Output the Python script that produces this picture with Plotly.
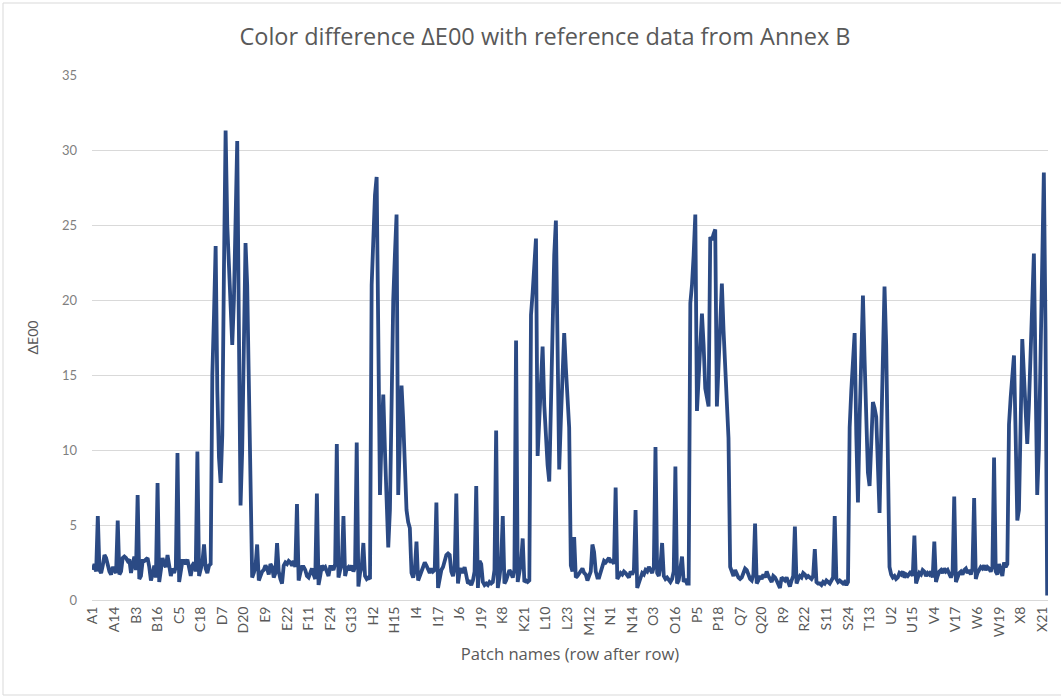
import plotly.graph_objects as go

# Colour difference per patch, one list per target row (24 patches each)
row_A = [2.0, 2.4, 1.9, 5.6, 2.0, 1.8, 2.3, 3.0, 2.8, 2.2, 1.9, 1.7, 2.2, 2.0, 1.8, 5.3, 1.7, 1.9, 2.8, 2.9, 2.8, 2.6, 2.7, 1.8]
row_B = [2.4, 2.9, 2.0, 7.0, 1.4, 1.6, 2.6, 2.6, 2.7, 2.8, 2.2, 1.3, 1.7, 2.3, 1.5, 7.8, 1.2, 2.2, 2.8, 2.4, 2.2, 3.0, 2.1, 1.6]
row_C = [2.1, 1.8, 2.2, 9.8, 1.2, 1.9, 2.6, 2.6, 2.4, 2.7, 2.1, 1.6, 2.3, 2.5, 1.9, 9.9, 1.6, 2.0, 2.5, 3.7, 2.1, 1.8, 2.3, 2.4]
row_D = [15.0, 19.0, 23.6, 14.0, 9.5, 7.8, 11.0, 22.0, 31.3, 25.0, 22.0, 19.0, 17.0, 20.0, 26.0, 30.6, 18.0, 6.3, 10.0, 17.0, 23.8, 21.0, 14.0, 5.0]
row_E = [1.5, 1.8, 2.2, 3.7, 1.3, 1.6, 1.9, 2.0, 2.3, 2.1, 1.7, 2.4, 2.2, 1.5, 1.8, 3.8, 1.9, 1.4, 1.1, 2.3, 2.5, 2.4, 2.6, 2.5]
row_F = [2.3, 2.6, 2.2, 6.4, 1.3, 1.8, 2.2, 2.2, 2.0, 1.6, 1.5, 1.8, 2.1, 1.7, 1.4, 7.1, 1.0, 1.6, 2.3, 2.1, 2.2, 1.9, 1.6, 2.2]
row_G = [2.2, 2.0, 2.4, 10.4, 1.5, 2.0, 2.3, 5.6, 1.6, 2.1, 2.2, 2.0, 2.3, 1.9, 2.2, 10.5, 0.9, 1.8, 2.2, 3.8, 1.6, 1.4, 1.5, 1.4]
row_H = [21.0, 24.0, 27.0, 28.2, 19.0, 7.0, 11.0, 13.7, 10.0, 6.0, 3.5, 6.0, 15.0, 20.0, 23.0, 25.7, 7.0, 11.0, 14.3, 12.0, 8.0, 6.0, 5.2, 4.8]
row_I = [1.8, 1.5, 2.0, 3.9, 1.3, 1.6, 1.9, 2.2, 2.5, 2.3, 2.0, 1.8, 2.1, 1.9, 2.0, 6.5, 0.8, 1.6, 2.0, 2.2, 2.6, 3.0, 3.1, 3.0]
row_J = [1.9, 1.6, 2.1, 7.1, 1.1, 1.9, 2.1, 1.8, 2.2, 1.7, 1.1, 1.2, 1.0, 1.3, 1.9, 7.6, 0.8, 2.6, 2.4, 1.2, 1.0, 1.1, 1.0, 1.2]
row_K = [1.1, 1.2, 2.0, 11.3, 0.8, 1.5, 2.5, 5.6, 1.1, 1.3, 1.6, 2.0, 1.8, 1.5, 2.0, 17.3, 1.2, 2.0, 2.5, 4.1, 1.2, 1.3, 1.2, 1.3]
row_L = [19.0, 20.5, 22.5, 24.1, 9.6, 12.0, 14.5, 16.9, 13.0, 10.5, 9.0, 7.9, 14.0, 19.0, 23.0, 25.3, 14.0, 8.7, 12.0, 15.5, 17.8, 15.5, 13.5, 11.5]
row_M = [2.3, 1.9, 4.2, 1.5, 1.6, 1.8, 1.9, 2.1, 1.8, 1.7, 1.3, 1.6, 1.9, 3.7, 3.2, 1.9, 1.5, 1.5, 1.9, 2.4, 2.6, 2.5, 2.7, 2.8]
row_N = [2.5, 2.7, 2.4, 7.5, 1.4, 1.6, 1.8, 1.7, 1.9, 1.8, 1.6, 1.5, 1.9, 1.7, 2.0, 6.0, 0.8, 1.2, 1.6, 1.8, 1.7, 2.0, 1.9, 2.2]
row_O = [2.0, 1.8, 2.2, 10.2, 1.8, 1.6, 2.3, 3.8, 1.6, 1.4, 1.5, 1.3, 1.2, 1.4, 1.9, 8.9, 1.1, 1.3, 2.0, 2.9, 1.2, 1.4, 1.1, 1.1]
row_P = [19.8, 21.0, 23.0, 25.7, 12.6, 15.0, 17.5, 19.1, 17.0, 14.1, 13.5, 12.9, 24.2, 24.0, 24.4, 24.7, 12.9, 16.0, 19.0, 21.1, 18.0, 15.5, 13.0, 10.8]
row_Q = [2.2, 1.9, 1.6, 2.0, 1.7, 1.5, 1.4, 1.5, 1.8, 2.1, 2.0, 1.6, 1.4, 1.3, 1.7, 5.1, 1.1, 1.3, 1.6, 1.4, 1.7, 1.5, 1.9, 1.6]
row_R = [1.4, 1.2, 1.6, 1.5, 1.3, 1.0, 0.8, 1.5, 1.4, 1.3, 1.5, 1.1, 0.9, 1.3, 1.6, 4.9, 1.1, 1.4, 1.6, 1.5, 1.8, 1.7, 1.5, 1.6]
row_S = [1.5, 1.4, 1.6, 3.4, 1.2, 1.1, 1.1, 1.0, 1.2, 1.1, 1.3, 1.2, 1.1, 1.3, 1.5, 5.6, 1.4, 1.2, 1.3, 1.2, 1.1, 1.2, 1.0, 1.2]
row_T = [11.5, 14.0, 16.5, 17.8, 11.0, 6.5, 12.0, 17.0, 20.3, 16.0, 11.0, 8.5, 7.6, 10.5, 13.2, 12.8, 12.2, 9.0, 5.8, 11.0, 17.0, 20.9, 17.0, 8.0]
row_U = [2.2, 1.7, 1.5, 1.6, 1.4, 1.5, 1.8, 1.7, 1.9, 1.5, 1.7, 1.6, 1.8, 1.9, 1.6, 4.3, 1.1, 1.5, 1.8, 1.7, 2.0, 1.9, 1.6, 1.8]
row_V = [1.7, 1.9, 1.5, 3.9, 1.2, 1.6, 1.9, 2.0, 1.8, 2.1, 1.9, 2.0, 1.7, 1.5, 1.8, 6.9, 1.2, 1.6, 1.8, 1.9, 1.7, 2.0, 2.1, 1.8]
row_W = [2.0, 1.7, 2.1, 6.8, 1.4, 1.8, 2.0, 2.2, 2.1, 2.3, 2.0, 2.2, 2.1, 1.9, 2.2, 9.5, 1.9, 1.7, 2.4, 2.0, 1.6, 2.5, 2.2, 2.4]
row_X = [11.7, 13.5, 15.0, 16.3, 11.0, 5.3, 6.0, 11.0, 17.4, 15.0, 12.0, 10.4, 13.0, 17.0, 20.5, 23.1, 15.0, 7.0, 10.0, 17.0, 24.0, 28.5, 18.0, 0.3]

row_letters = list("ABCDEFGHIJKLMNOPQRSTUVWX")
rows = [row_A, row_B, row_C, row_D, row_E, row_F, row_G, row_H, row_I, row_J, row_K, row_L,
        row_M, row_N, row_O, row_P, row_Q, row_R, row_S, row_T, row_U, row_V, row_W, row_X]

tick_labels = ["A1", "A14", "B3", "B16", "C5", "C18", "D7", "D20", "E9", "E22", "F11", "F24",
               "G13", "H2", "H15", "I4", "I17", "J6", "J19", "K8", "K21", "L10", "L23", "M12",
               "N1", "N14", "O3", "O16", "P5", "P18", "Q7", "Q20", "R9", "R22", "S11", "S24",
               "T13", "U2", "U15", "V4", "V17", "W6", "W19", "X8", "X21"]

patches = []
delta_e = []
for letter, vals in zip(row_letters, rows):
    assert len(vals) == 24
    for col, v in enumerate(vals, start=1):
        patches.append(f"{letter}{col}")
        delta_e.append(v)

GREY_TXT = "#595959"
FONT = "Lato, 'Open Sans', sans-serif"
TITLE_FONT = "'Open Sans', Lato, sans-serif"

fig = go.Figure()
fig.add_trace(go.Scatter(
    x=patches, y=delta_e, mode="lines",
    line=dict(color="#2B4A84", width=3.8),
    hoverinfo="x+y", showlegend=False,
))

fig.update_layout(
    width=1061, height=698, autosize=False,
    margin=dict(l=92, r=13, t=75, b=98),
    paper_bgcolor="white", plot_bgcolor="white",
    font=dict(family=FONT, color=GREY_TXT),
    title=dict(text="Color difference ΔE00 with reference data from Annex B",
               x=(545 - 92) / 956, xanchor="center", xref="paper", y=0.947, yanchor="middle",
               font=dict(size=23.5, color=GREY_TXT, family=TITLE_FONT)),
    xaxis=dict(
        type="category", categoryorder="array", categoryarray=patches,
        range=[-0.5, len(patches) - 0.5],
        tickmode="array", tickvals=tick_labels, ticktext=tick_labels,
        tickangle=-90, tickfont=dict(size=14, color=GREY_TXT, family=FONT),
        showgrid=False, showline=True, linecolor="#d9d9d9", linewidth=1,
        ticks="", zeroline=False,
        title=dict(text="Patch names (row after row)", standoff=12,
                   font=dict(size=16.6, color=GREY_TXT, family=TITLE_FONT)),
    ),
    yaxis=dict(
        range=[0, 35], tickmode="array", tickvals=[0, 5, 10, 15, 20, 25, 30, 35],
        showgrid=True, gridcolor="#d9d9d9", gridwidth=1, zeroline=False,
        tickfont=dict(size=13, color="#7f7f7f", family=FONT),
        ticklabelstandoff=14,
        title=dict(text="ΔE00", standoff=20,
                   font=dict(size=14, color=GREY_TXT, family=FONT)),
    ),
)

# Chart area border
fig.add_shape(type="rect", xref="paper", yref="paper",
              x0=-89 / 956, x1=1.03, y0=-95 / 525, y1=1 + 72 / 525,
              line=dict(color="#d9d9d9", width=1), fillcolor="rgba(0,0,0,0)", layer="below")

fig.write_html("out.html")
